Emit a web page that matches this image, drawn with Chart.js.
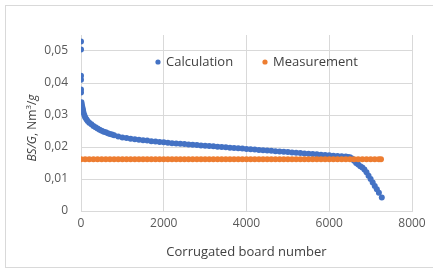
<!DOCTYPE html>
<html>
<head>
<meta charset="utf-8">
<script src="https://cdn.jsdelivr.net/npm/chart.js@4"></script>
<style>
  html, body { margin: 0; padding: 0; background: #fff; }
  #wrap { width: 433px; height: 271px; position: relative; }
</style>
</head>
<body>
<div id="wrap"><canvas id="chart" width="433" height="271"></canvas></div>
<script>
// BS/G vs corrugated board number

const seriesNames = ['Calculation', 'Measurement'];

const calcBoard = [
    0, 0, 0, 0, 0, 0, 10, 20, 30, 40, 50, 60, 80, 100, 130, 160, 200, 250,
    300, 350, 400, 450, 500, 550, 600, 650, 700, 750, 800, 900, 1000, 1100,
    1200, 1300, 1400, 1500, 1600, 1700, 1800, 1900, 2000, 2100, 2200, 2300,
    2400, 2500, 2600, 2700, 2800, 2900, 3000, 3100, 3200, 3300, 3400, 3500,
    3600, 3700, 3800, 3900, 4000, 4100, 4200, 4300, 4400, 4500, 4600, 4700,
    4800, 4900, 5000, 5100, 5200, 5300, 5400, 5500, 5600, 5700, 5800, 5900,
    6000, 6100, 6200, 6300, 6400, 6450, 6500, 6550, 6600, 6650, 6700, 6750,
    6800, 6850, 6900, 6950, 7000, 7050, 7100, 7150, 7200, 7270
];
const calcValue = [
    0.0530, 0.0505, 0.0423, 0.0410, 0.0380, 0.0370, 0.0340, 0.0333, 0.0326,
    0.0320, 0.0314, 0.0308, 0.0300, 0.0293, 0.0287, 0.0281, 0.0276, 0.0271,
    0.0266, 0.0262, 0.0258, 0.0254, 0.0251, 0.0248, 0.0246, 0.0243, 0.0241,
    0.0239, 0.0237, 0.0233, 0.0230, 0.0228, 0.0226, 0.0224, 0.0223, 0.0221,
    0.0220, 0.0218, 0.0217, 0.0216, 0.0215, 0.0213, 0.0212, 0.0211, 0.0210,
    0.0209, 0.0208, 0.0207, 0.0206, 0.0205, 0.0204, 0.0203, 0.0202, 0.0201,
    0.0200, 0.0199, 0.0198, 0.0197, 0.0196, 0.0195, 0.0194, 0.0193, 0.0192,
    0.0191, 0.0190, 0.0189, 0.0188, 0.0187, 0.0186, 0.0185, 0.0184, 0.0183,
    0.0182, 0.0181, 0.0180, 0.0179, 0.0178, 0.0177, 0.0176, 0.0175, 0.0174,
    0.0173, 0.0172, 0.0171, 0.0170, 0.0169, 0.0168, 0.0164, 0.0157, 0.0150,
    0.0145, 0.0140, 0.0136, 0.0130, 0.0121, 0.0110, 0.0100, 0.0089, 0.0078,
    0.0068, 0.0057, 0.0042
];

const measBoard = [
    0, 100, 200, 300, 400, 500, 600, 700, 800, 900, 1000, 1100, 1200, 1300,
    1400, 1500, 1600, 1700, 1800, 1900, 2000, 2100, 2200, 2300, 2400, 2500,
    2600, 2700, 2800, 2900, 3000, 3100, 3200, 3300, 3400, 3500, 3600, 3700,
    3800, 3900, 4000, 4100, 4200, 4300, 4400, 4500, 4600, 4700, 4800, 4900,
    5000, 5100, 5200, 5300, 5400, 5500, 5600, 5700, 5800, 5900, 6000, 6100,
    6200, 6300, 6400, 6500, 6600, 6700, 6800, 6900, 7000, 7100, 7200, 7250
];
const measValue = [
    0.0162, 0.0162, 0.0162, 0.0162, 0.0162, 0.0162, 0.0162, 0.0162, 0.0162,
    0.0162, 0.0162, 0.0162, 0.0162, 0.0162, 0.0162, 0.0162, 0.0162, 0.0162,
    0.0162, 0.0162, 0.0162, 0.0162, 0.0162, 0.0162, 0.0162, 0.0162, 0.0162,
    0.0162, 0.0162, 0.0162, 0.0162, 0.0162, 0.0162, 0.0162, 0.0162, 0.0162,
    0.0162, 0.0162, 0.0162, 0.0162, 0.0162, 0.0162, 0.0162, 0.0162, 0.0162,
    0.0162, 0.0162, 0.0162, 0.0162, 0.0162, 0.0162, 0.0162, 0.0162, 0.0162,
    0.0162, 0.0162, 0.0162, 0.0162, 0.0162, 0.0162, 0.0162, 0.0162, 0.0162,
    0.0162, 0.0162, 0.0162, 0.0162, 0.0162, 0.0162, 0.0162, 0.0162, 0.0162,
    0.0162, 0.0162
];

const xTicks = [0, 2000, 4000, 6000, 8000];
const yTicks = [0, 0.01, 0.02, 0.03, 0.04, 0.05];

const FONT = "'Open Sans', 'Liberation Sans', sans-serif";
const blue = '#4472c4';
const orange = '#ed7d31';
const gridColor = '#d9d9d9';

const toPoints = (xs, ys) => xs.map((x, i) => ({ x: x, y: ys[i] }));

// outer frame, legend inside the plot and the mixed-style y title
const decorPlugin = {
    id: 'decor',
    beforeDraw(chart) {
        const ctx = chart.ctx;
        ctx.save();
        ctx.strokeStyle = '#d9d9d9';
        ctx.lineWidth = 1;
        ctx.strokeRect(5.5, 5.5, 440, 262);
        ctx.restore();
    },
    afterDraw(chart) {
        const ctx = chart.ctx;
        ctx.save();
        // legend
        const legendY = 62;
        const legendX = [158, 265];
        chart.data.datasets.forEach((ds, i) => {
            ctx.fillStyle = ds.backgroundColor;
            ctx.beginPath();
            ctx.arc(legendX[i], legendY, 2.6, 0, Math.PI * 2);
            ctx.fill();
            ctx.fillStyle = '#404040';
            ctx.font = '13px ' + FONT;
            ctx.textBaseline = 'middle';
            ctx.textAlign = 'left';
            ctx.fillText(ds.label, legendX[i] + 8, legendY);
        });

        // y axis title: BS/G, Nm³/g
        const parts = [
            { t: 'BS/G', f: 'italic 12px ' + FONT, dy: 0 },
            { t: ', Nm', f: '12px ' + FONT, dy: 0 },
            { t: '3', f: '8px ' + FONT, dy: -5 },
            { t: '/', f: '12px ' + FONT, dy: 0 },
            { t: 'g', f: 'italic 12px ' + FONT, dy: 0 }
        ];
        let total = 0;
        parts.forEach(p => { ctx.font = p.f; p.w = ctx.measureText(p.t).width; total += p.w; });
        ctx.translate(36, 128);
        ctx.rotate(-Math.PI / 2);
        ctx.fillStyle = '#404040';
        ctx.textBaseline = 'alphabetic';
        ctx.textAlign = 'left';
        let x = -total / 2;
        parts.forEach(p => {
            ctx.font = p.f;
            ctx.fillText(p.t, x, p.dy);
            x += p.w;
        });
        ctx.restore();
    }
};

new Chart(document.getElementById('chart'), {
    type: 'scatter',
    data: {
        datasets: [
            {
                label: seriesNames[0],
                data: toPoints(calcBoard, calcValue),
                backgroundColor: blue,
                borderColor: blue,
                pointRadius: 3,
                pointBorderWidth: 0,
                order: 1
            },
            {
                label: seriesNames[1],
                data: toPoints(measBoard, measValue),
                backgroundColor: orange,
                borderColor: orange,
                pointRadius: 3,
                pointBorderWidth: 0,
                order: 0
            }
        ]
    },
    options: {
        responsive: false,
        animation: false,
        layout: { padding: { left: 0, right: 21, top: 35, bottom: 0 } },
        plugins: {
            legend: { display: false },
            tooltip: { enabled: false }
        },
        scales: {
            x: {
                type: 'linear',
                min: 0,
                max: 8000,
                afterBuildTicks: (scale) => { scale.ticks = xTicks.map(v => ({ value: v })); },
                afterFit: (scale) => { scale.height = 60; },
                ticks: {
                    color: '#595959',
                    font: { family: FONT, size: 12 },
                    padding: 5,
                    maxRotation: 0,
                    callback: (v) => String(v)
                },
                grid: { color: gridColor, drawTicks: false },
                border: { color: gridColor },
                title: {
                    display: true,
                    text: 'Corrugated board number',
                    color: '#404040',
                    font: { family: FONT, size: 13 },
                    padding: { top: 0, bottom: 11 }
                }
            },
            y: {
                type: 'linear',
                min: 0,
                max: 0.055,
                afterBuildTicks: (scale) => { scale.ticks = yTicks.map(v => ({ value: v })); },
                afterFit: (scale) => { scale.width = 81; },
                ticks: {
                    color: '#595959',
                    font: { family: FONT, size: 12 },
                    padding: 13,
                    callback: (v) => v === 0 ? '0' : v.toFixed(2).replace('.', ',')
                },
                grid: { color: gridColor, drawTicks: false },
                border: { display: false }
            }
        }
    },
    plugins: [decorPlugin]
});
</script>
</body>
</html>
